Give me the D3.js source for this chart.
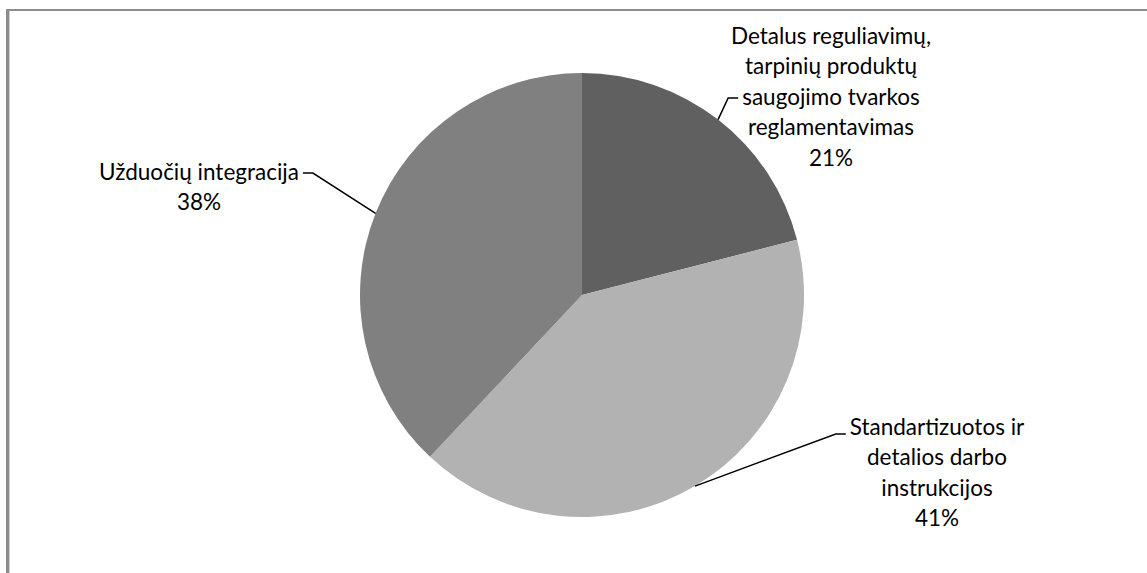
<!DOCTYPE html>
<html>
<head>
<meta charset="utf-8">
<script src="https://cdn.jsdelivr.net/npm/d3@7"></script>
<style>
  html, body { margin: 0; padding: 0; background: #fff; }
  svg { display: block; }
  text { font-family: Lato, "Open Sans", sans-serif; fill: #000; }
</style>
</head>
<body>
<svg id="chart" width="1147" height="573"></svg>
<script>
// Share of measures (percent)
const categories = [
  ["Detalus reguliavimų,", "tarpinių produktų", "saugojimo tvarkos", "reglamentavimas"],
  ["Standartizuotos ir", "detalios darbo", "instrukcijos"],
  ["Užduočių integracija"]
];
const values = [21, 41, 38];
const sliceColors = ["#606060", "#b2b2b2", "#808080"];

// Label placement: block centre x, first line y, which line carries the leader, its offset
const labelLayout = [
  { cx: 831, y0: 36, lineY: 2, off: 1, side: "left" },
  { cx: 937, y0: 427, lineY: 0, off: 7, side: "left" },
  { cx: 199, y0: 172, lineY: 0, off: 1, side: "right" }
];

const W = 1147, H = 573;
const cx = 582, cy = 295, R = 222;
const lineH = 30.5;
const fontSize = 22.5;

const svg = d3.select("#chart");

// frame
svg.append("line").attr("x1", 6).attr("x2", W).attr("y1", 10).attr("y2", 10)
  .attr("stroke", "#8c8c8c").attr("stroke-width", 2);
svg.append("line").attr("x1", 7.5).attr("x2", 7.5).attr("y1", 9).attr("y2", H)
  .attr("stroke", "#8c8c8c").attr("stroke-width", 3);
svg.append("line").attr("x1", 9.5).attr("x2", 9.5).attr("y1", 11).attr("y2", H)
  .attr("stroke", "#d0d0d0").attr("stroke-width", 1);

const pie = d3.pie().sort(null).value(d => d);
const arcs = pie(values);
const arc = d3.arc().innerRadius(0).outerRadius(R);

const g = svg.append("g").attr("transform", `translate(${cx},${cy})`);
g.selectAll("path").data(arcs).join("path")
  .attr("d", arc)
  .attr("fill", (d, i) => sliceColors[i]);

// labels
const fmt = d3.format(".0%");
const total = d3.sum(values);
arcs.forEach((a, i) => {
  const L = labelLayout[i];
  const lines = categories[i].concat([fmt(values[i] / total)]);
  const t = svg.append("text")
    .attr("text-anchor", "middle")
    .style("font-size", fontSize + "px");
  lines.forEach((s, k) => {
    t.append("tspan").attr("x", L.cx).attr("y", L.y0 + k * lineH)
      .attr("dy", "0.35em").text(s);
  });
  // leader line: from slice edge at mid angle to the side of the anchor line
  const mid = (a.startAngle + a.endAngle) / 2;
  const ex = cx + R * Math.sin(mid), ey = cy - R * Math.cos(mid);
  const tspan = t.selectAll("tspan").nodes()[L.lineY];
  const len = tspan.getComputedTextLength();
  const ay = L.y0 + L.lineY * lineH + L.off;
  const ax = L.side === "left" ? L.cx - len / 2 - 4 : L.cx + len / 2 + 4;
  const bx = L.side === "left" ? ax - 10 : ax + 10;
  svg.append("path")
    .attr("d", d3.line()([[ex, ey], [bx, ay], [ax, ay]]))
    .attr("fill", "none").attr("stroke", "#000").attr("stroke-width", 1.5);
});
</script>
</body>
</html>
